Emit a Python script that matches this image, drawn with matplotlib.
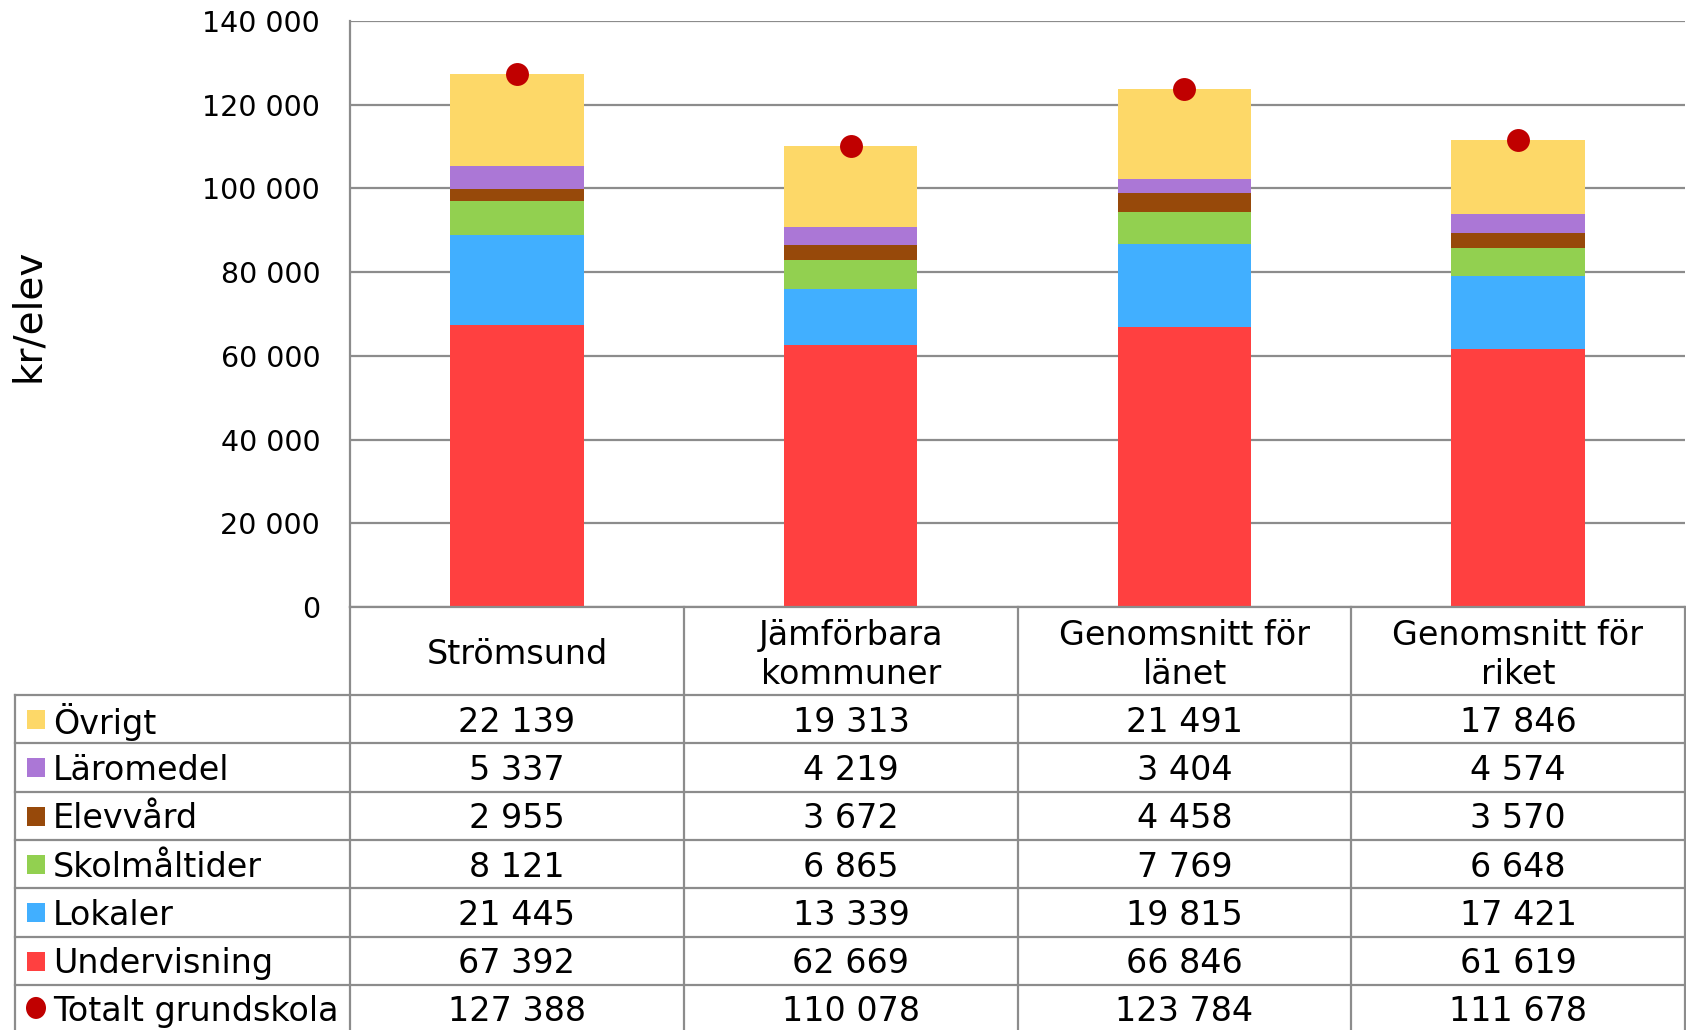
import matplotlib
matplotlib.use("Agg")
import matplotlib.pyplot as plt
from matplotlib.patches import Rectangle, Ellipse
import numpy as np

plt.rcParams['font.family'] = ['DejaVu Sans']

categories = ["Strömsund", "Jämförbara\nkommuner", "Genomsnitt för\nlänet", "Genomsnitt för\nriket"]
undervisning = [67392, 62669, 66846, 61619]
lokaler = [21445, 13339, 19815, 17421]
skolmaltider = [8121, 6865, 7769, 6648]
elevvard = [2955, 3672, 4458, 3570]
laromedel = [5337, 4219, 3404, 4574]
ovrigt = [22139, 19313, 21491, 17846]
totalt = [127388, 110078, 123784, 111678]

stack_names = ["Undervisning", "Lokaler", "Skolmåltider", "Elevvård", "Läromedel", "Övrigt"]
stack_values = [undervisning, lokaler, skolmaltider, elevvard, laromedel, ovrigt]
stack_colors = ["#FF4040", "#41AFFF", "#92D050", "#97490A", "#AB77D6", "#FDD868"]
dot_color = "#C00000"
yticks = [0, 20000, 40000, 60000, 80000, 100000, 120000, 140000]

W, H = 1686, 1030
fig = plt.figure(figsize=(W / 100, H / 100), dpi=100)

left, right, top, bottom = 350, 1685, 21, 607
ax = fig.add_axes([left / W, 1 - bottom / H, (right - left) / W, (bottom - top) / H])
x = np.arange(len(categories))
base = np.zeros(len(categories))
for vals, col in zip(stack_values, stack_colors):
    ax.bar(x, vals, width=0.4, bottom=base, color=col, edgecolor="none", zorder=3)
    base += np.array(vals)
ax.plot(x, totalt, 'o', color=dot_color, markersize=16.5, zorder=4, markeredgewidth=0)
ax.set_xlim(-0.5, len(categories) - 0.5)
ax.set_ylim(0, 140000)
ax.set_yticks(yticks)
ax.set_yticklabels([f"{v:,}".replace(",", " ") for v in yticks], fontsize=20.5)
ax.tick_params(axis='y', length=0, pad=21.5)
ax.set_xticks([])
ax.grid(axis='y', color="#8c8c8c", linewidth=1.6, zorder=0)
for s in ["top", "right", "bottom"]:
    ax.spines[s].set_visible(False)
ax.spines["left"].set_color("#8c8c8c")
ax.spines["left"].set_linewidth(1.6)

fig.text(28 / W, 1 - 315 / H, "kr/elev", rotation=90, fontsize=28, ha='center', va='center')

# table overlay in pixel coordinates
tab = fig.add_axes([0, 0, 1, 1])
tab.set_xlim(0, W)
tab.set_ylim(H, 0)
tab.axis('off')
lc = "#8c8c8c"
lw = 1.6
col_x = [350, 684, 1018, 1351, 1685]
head_top, head_bot = 607, 695
row_h = 48.3
n_rows = 7
rows_y = [head_bot + i * row_h for i in range(n_rows + 1)]

tab.plot([col_x[0], col_x[-1]], [head_top, head_top], color=lc, lw=lw)
for cx in col_x:
    tab.plot([cx, cx], [head_top, rows_y[-1]], color=lc, lw=lw)
tab.plot([15, 15], [head_bot, rows_y[-1]], color=lc, lw=lw)
for yy in rows_y:
    tab.plot([15, col_x[-1]], [yy, yy], color=lc, lw=lw)
for i, c in enumerate(categories):
    cx = (col_x[i] + col_x[i + 1]) / 2
    tab.text(cx, (head_top + head_bot) / 2 + 4, c, ha='center', va='center', fontsize=24, linespacing=1.25)

row_names = ["Övrigt", "Läromedel", "Elevvård", "Skolmåltider", "Lokaler", "Undervisning", "Totalt grundskola"]
row_vals = [ovrigt, laromedel, elevvard, skolmaltider, lokaler, undervisning, totalt]
row_cols = ["#FDD868", "#AB77D6", "#97490A", "#92D050", "#41AFFF", "#FF4040", dot_color]
for r in range(n_rows):
    yc = (rows_y[r] + rows_y[r + 1]) / 2
    if r < n_rows - 1:
        tab.add_patch(Rectangle((27, yc - 9), 18, 19, color=row_cols[r], lw=0))
    else:
        tab.add_patch(Ellipse((36, yc - 1), 20, 22, color=row_cols[r], lw=0))
    tab.text(53, yc + 3, row_names[r], ha='left', va='center', fontsize=24)
    for i in range(len(categories)):
        cx = (col_x[i] + col_x[i + 1]) / 2
        tab.text(cx, yc + 3, f"{row_vals[r][i]:,}".replace(",", " "), ha='center', va='center', fontsize=24)

fig.savefig("out.png", dpi=100)
